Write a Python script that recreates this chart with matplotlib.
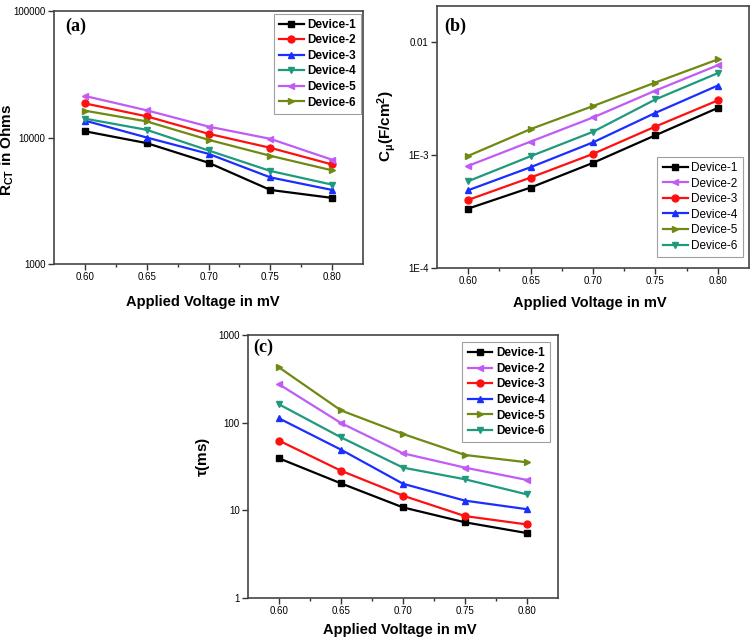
import matplotlib
matplotlib.use('Agg')
import matplotlib.pyplot as plt
import numpy as np

plt.rcParams['font.family'] = ['Liberation Sans', 'DejaVu Sans']
plt.rcParams['mathtext.fontset'] = 'custom'
plt.rcParams['mathtext.rm'] = 'Liberation Sans'
plt.rcParams['mathtext.it'] = 'Liberation Sans:italic'
plt.rcParams['mathtext.bf'] = 'Liberation Sans:bold'

voltage = [0.60, 0.65, 0.70, 0.75, 0.80]
devices = ['Device-1', 'Device-2', 'Device-3', 'Device-4', 'Device-5', 'Device-6']

# (a) charge transfer resistance, Ohms
rct = {
    'Device-1': [11200, 9030, 6320, 3850, 3330],
    'Device-2': [18600, 14700, 10700, 8290, 6120],
    'Device-3': [13600, 10000, 7430, 4840, 3850],
    'Device-4': [14100, 11500, 7900, 5440, 4240],
    'Device-5': [21300, 16400, 12200, 9760, 6670],
    'Device-6': [16300, 13400, 9590, 7170, 5500],
}
# (b) chemical capacitance, F/cm2
cmu = {
    'Device-1': [3.35e-4, 5.14e-4, 8.5e-4, 1.49e-3, 2.6e-3],
    'Device-2': [8.0e-4, 1.31e-3, 2.14e-3, 3.7e-3, 6.2e-3],
    'Device-3': [4.0e-4, 6.3e-4, 1.02e-3, 1.78e-3, 3.03e-3],
    'Device-4': [4.87e-4, 7.78e-4, 1.29e-3, 2.35e-3, 4.1e-3],
    'Device-5': [9.8e-4, 1.69e-3, 2.7e-3, 4.36e-3, 6.98e-3],
    'Device-6': [5.85e-4, 9.73e-4, 1.6e-3, 3.09e-3, 5.28e-3],
}
# (c) electron lifetime, ms
tau = {
    'Device-1': [39.2, 20.3, 10.8, 7.3, 5.5],
    'Device-2': [274, 99, 44.7, 30.7, 22.2],
    'Device-3': [62.4, 28.3, 14.7, 8.6, 6.9],
    'Device-4': [112, 49.2, 20.1, 12.9, 10.3],
    'Device-5': [427, 138, 74.3, 42.8, 35.3],
    'Device-6': [162, 68, 30.7, 22.6, 15.2],
}

BLACK, RED, BLUE = '#000000', '#ff1010', '#1a2fff'
TEAL, VIOLET, OLIVE = '#1f9a7c', '#c05cf5', '#6f8a12'

# style per panel (colour, marker) in device order
style_a = [(BLACK, 's'), (RED, 'o'), (BLUE, '^'), (TEAL, 'v'), (VIOLET, '<'), (OLIVE, '>')]
style_bc = [(BLACK, 's'), (VIOLET, '<'), (RED, 'o'), (BLUE, '^'), (OLIVE, '>'), (TEAL, 'v')]

fig = plt.figure(figsize=(7.56, 6.4), dpi=100)
W, H = 756.0, 640.0

def make_ax(l, r, t, b):
    return fig.add_axes([l / W, 1 - b / H, (r - l) / W, (b - t) / H])

ax_a = make_ax(54, 363, 11, 264)
ax_b = make_ax(437, 749, 6, 268)
ax_c = make_ax(248, 558, 335, 598)

def draw(ax, data, styles, ylim, yticks, ylabels, ylabel, tag, tagpos,
         xlab_xy, ylab_xy, leg_loc, leg_anchor, leg_bold, leg_size, leg_space):
    for dev, (c, m) in zip(devices, styles):
        ax.plot(voltage, data[dev], color=c, marker=m, markersize=5, lw=1.6, label=dev)
    ax.set_yscale('log')
    ax.set_ylim(*ylim)
    ax.set_xlim(0.575, 0.825)
    ax.set_xticks(voltage)
    ax.set_xticklabels(['%.2f' % v for v in voltage])
    ax.set_xticks([0.625, 0.675, 0.725, 0.775], minor=True)
    ax.set_yticks(yticks)
    ax.set_yticklabels(ylabels)
    ax.yaxis.set_minor_locator(matplotlib.ticker.NullLocator())
    ax.tick_params(axis='both', which='major', direction='out', length=4, width=1,
                   labelsize=7, pad=2, colors='#333333')
    ax.tick_params(axis='x', which='minor', direction='out', length=2.5, width=1, color='#333333')
    for lab in ax.get_xticklabels() + ax.get_yticklabels():
        lab.set_color('black')
    for sp in ax.spines.values():
        sp.set_color('#444444')
        sp.set_linewidth(1.2)
    ax.set_xlabel('Applied Voltage in mV', fontsize=10.5, fontweight='bold', va='center')
    ax.xaxis.set_label_coords(*xlab_xy)
    ax.set_ylabel(ylabel, fontsize=11, fontweight='bold', va='center')
    ax.yaxis.set_label_coords(*ylab_xy)
    ax.text(tagpos[0], tagpos[1], tag, transform=ax.transAxes, ha='left', va='top',
            fontsize=13, fontweight='bold', family='Liberation Serif')
    leg = ax.legend(loc=leg_loc, bbox_to_anchor=leg_anchor, frameon=True, fancybox=False,
                    edgecolor='#888888', handlelength=2.1, handletextpad=0.3,
                    labelspacing=leg_space, borderpad=0.45, borderaxespad=0.0,
                    prop={'weight': 'bold' if leg_bold else 'normal', 'size': leg_size})
    leg.get_frame().set_linewidth(0.8)

draw(ax_a, rct, style_a, (1000, 100000), [1000, 10000, 100000], ['1000', '10000', '100000'],
     r'$\mathbf{R_{CT}}$ in Ohms', '(a)', (0.035, 0.975),
     (0.48, -0.150), (-0.150, 0.45), 'upper right', (0.995, 0.99), True, 8.5, 0.3)
draw(ax_b, cmu, style_bc, (1e-4, 0.0207), [1e-4, 1e-3, 1e-2], ['1E-4', '1E-3', '0.01'],
     r'C$\mathbf{_{\mu}}$(F/cm$\mathbf{^{2}}$)', '(b)', (0.022, 0.955),
     (0.49, -0.134), (-0.163, 0.54), 'lower right', (0.98, 0.042), False, 8.5, 0.3)
draw(ax_c, tau, style_bc, (1, 1000), [1, 10, 100, 1000], ['1', '10', '100', '1000'],
     r'$\mathbf{\tau}$(ms)', '(c)', (0.016, 0.985),
     (0.49, -0.122), (-0.145, 0.536), 'upper right', (0.974, 0.973), True, 8.5, 0.3)

fig.savefig('out.png', dpi=100)
